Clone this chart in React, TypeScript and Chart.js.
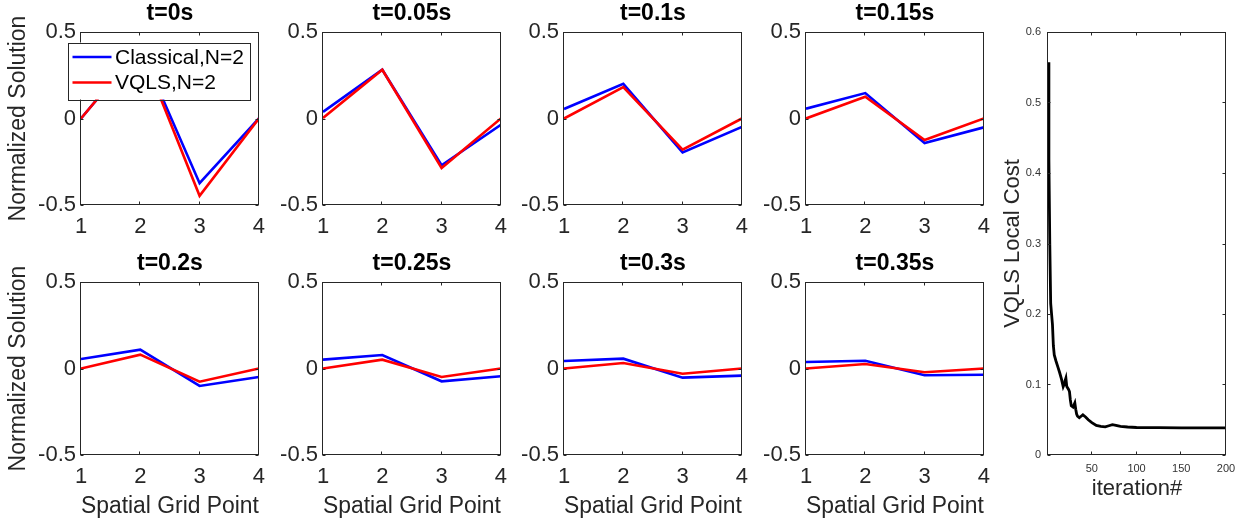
import React, { useEffect, useRef } from 'react';
import { Chart, registerables } from 'chart.js';

Chart.register(...registerables);

const FONT = '"Liberation Sans", Arial, Helvetica, sans-serif';

// ---- data ----
const gridPoints = [1, 2, 3, 4];
const xTickValues = [1, 2, 3, 4];
const yTickValues = [-0.5, 0, 0.5];
const timeTitles = ['t=0s', 't=0.05s', 't=0.1s', 't=0.15s', 't=0.2s', 't=0.25s', 't=0.3s', 't=0.35s'];
const seriesLabels = ['Classical,N=2', 'VQLS,N=2'];

const classicalT000 = [0, 0.41, -0.374, 0];
const vqlsT000 = [0, 0.41, -0.447, 0];
const classicalT005 = [0.038, 0.282, -0.27, -0.036];
const vqlsT005 = [0.003, 0.282, -0.286, 0];
const classicalT010 = [0.055, 0.2, -0.196, -0.049];
const vqlsT010 = [0, 0.182, -0.18, 0];
const classicalT015 = [0.057, 0.147, -0.142, -0.051];
const vqlsT015 = [0, 0.126, -0.124, 0];
const classicalT020 = [0.055, 0.109, -0.101, -0.049];
const vqlsT020 = [0, 0.08, -0.076, 0];
const classicalT025 = [0.051, 0.078, -0.074, -0.045];
const vqlsT025 = [0, 0.051, -0.049, 0];
const classicalT030 = [0.043, 0.057, -0.053, -0.041];
const vqlsT030 = [0, 0.032, -0.03, 0];
const classicalT035 = [0.038, 0.045, -0.039, -0.036];
const vqlsT035 = [0, 0.026, -0.022, 0];

const classicalSeries = [classicalT000, classicalT005, classicalT010, classicalT015, classicalT020, classicalT025, classicalT030, classicalT035];
const vqlsSeries = [vqlsT000, vqlsT005, vqlsT010, vqlsT015, vqlsT020, vqlsT025, vqlsT030, vqlsT035];

const costIterations = [1, 2, 3, 4, 5, 6, 7, 8, 10, 12, 14, 16, 18, 19, 20, 21, 22, 24, 25, 26, 27, 28, 29, 31, 32, 33, 34, 36, 38, 40, 43, 46, 50, 55, 60, 65, 69, 73, 77, 82, 90, 100, 125, 150, 175, 200];
const costValues = [0.557, 0.42, 0.3, 0.215, 0.2, 0.185, 0.155, 0.142, 0.133, 0.125, 0.117, 0.108, 0.097, 0.1, 0.105, 0.109, 0.097, 0.093, 0.09, 0.078, 0.07, 0.069, 0.068, 0.074, 0.065, 0.058, 0.055, 0.053, 0.055, 0.057, 0.054, 0.05, 0.046, 0.042, 0.0405, 0.04, 0.0415, 0.043, 0.042, 0.0405, 0.0397, 0.039, 0.0388, 0.0386, 0.0385, 0.0385];
const costYTicks = [0, 0.1, 0.2, 0.3, 0.4, 0.5, 0.6];
const costXTicks = [50, 100, 150, 200];

// ---- layout ----
const colLefts = [81, 323, 564, 806];
const rowTops = [32, 282];
const PLOT_W = 179;
const PLOT_H = 173;
const Y_AXIS_W = 80;
const X_AXIS_H = 70;
const TITLE_H = 32;
const PAD_R = 14;

const AXIS_COLOR = '#262626';

const boxPlugin = {
  id: 'matlabBox',
  afterDraw(chart: any, _args: any, opts: any) {
    const { ctx, chartArea: a } = chart;
    const len = opts.tickLen ?? 3;
    ctx.save();
    ctx.strokeStyle = AXIS_COLOR;
    ctx.lineWidth = 1;
    const l = Math.round(a.left) - 0.5;
    const r = Math.round(a.right) - 0.5;
    const t = Math.round(a.top) + 0.5;
    const b = Math.round(a.bottom) - 0.5;
    ctx.beginPath();
    const xs = chart.scales.x;
    const ys = chart.scales.y;
    xs.ticks.forEach((tk: any) => {
      const px = Math.round(xs.getPixelForValue(tk.value)) - 0.5;
      ctx.moveTo(px, b);
      ctx.lineTo(px, b - len);
      ctx.moveTo(px, t);
      ctx.lineTo(px, t + len);
    });
    ys.ticks.forEach((tk: any) => {
      const py = Math.round(ys.getPixelForValue(tk.value)) + 0.5;
      ctx.moveTo(l, py);
      ctx.lineTo(l + len, py);
      ctx.moveTo(r, py);
      ctx.lineTo(r - len, py);
    });
    ctx.stroke();
    ctx.strokeRect(l, t, r - l, b - t);
    ctx.restore();

    if (opts.legend) {
      const x0 = a.left - 13;
      const y0 = a.top + 10.5;
      const w = 182;
      const h = 57;
      ctx.save();
      ctx.fillStyle = '#ffffff';
      ctx.fillRect(x0, y0, w, h);
      ctx.strokeStyle = AXIS_COLOR;
      ctx.lineWidth = 1;
      ctx.strokeRect(Math.round(x0) + 0.5, Math.round(y0) + 0.5, w, h);
      chart.data.datasets.forEach((ds: any, i: number) => {
        const yy = y0 + 14.5 + i * 25.5;
        ctx.strokeStyle = ds.borderColor;
        ctx.lineWidth = 2.6;
        ctx.beginPath();
        ctx.moveTo(x0 + 4.5, yy);
        ctx.lineTo(x0 + 43.5, yy);
        ctx.stroke();
        ctx.fillStyle = '#000000';
        ctx.font = `21px ${FONT}`;
        ctx.textBaseline = 'middle';
        ctx.textAlign = 'left';
        ctx.fillText(ds.label, x0 + 47, yy + 1);
      });
      ctx.restore();
    }
  },
};

function subplotConfig(i: number): any {
  const row = Math.floor(i / 4);
  const col = i % 4;
  return {
    type: 'line',
    data: {
      datasets: [
        {
          label: seriesLabels[0],
          data: gridPoints.map((x, k) => ({ x, y: classicalSeries[i][k] })),
          borderColor: '#0000FF',
          borderWidth: 2.6,
          pointRadius: 0,
          tension: 0,
          order: 1,
        },
        {
          label: seriesLabels[1],
          data: gridPoints.map((x, k) => ({ x, y: vqlsSeries[i][k] })),
          borderColor: '#FF0000',
          borderWidth: 2.6,
          pointRadius: 0,
          tension: 0,
          order: 0,
        },
      ],
    },
    options: {
      animation: false,
      responsive: false,
      maintainAspectRatio: false,
      devicePixelRatio: 1,
      layout: { padding: { left: 0, right: PAD_R, top: 0, bottom: 0 } },
      plugins: {
        legend: { display: false },
        tooltip: { enabled: false },
        title: {
          display: true,
          fullSize: false,
          text: timeTitles[i],
          color: '#000000',
          font: { family: FONT, size: 23, weight: 'bold' },
          padding: { top: 0, bottom: 4.4 },
        },
        matlabBox: { tickLen: 3, legend: i === 0 },
      },
      scales: {
        x: {
          type: 'linear',
          min: 1,
          max: 4,
          afterBuildTicks: (s: any) => {
            s.ticks = xTickValues.map((v) => ({ value: v }));
          },
          afterFit: (s: any) => {
            s.height = X_AXIS_H;
          },
          grid: { display: false, drawTicks: false },
          border: { display: false },
          ticks: {
            color: AXIS_COLOR,
            font: { family: FONT, size: 22 },
            padding: 9,
            maxRotation: 0,
            autoSkip: false,
            callback: (v: any) => String(v),
          },
          title: {
            display: row === 1,
            text: 'Spatial Grid Point',
            color: AXIS_COLOR,
            font: { family: FONT, size: 23 },
            padding: { top: 0, bottom: 4.2 },
          },
        },
        y: {
          type: 'linear',
          min: -0.5,
          max: 0.5,
          afterBuildTicks: (s: any) => {
            s.ticks = yTickValues.map((v) => ({ value: v }));
          },
          afterFit: (s: any) => {
            s.width = Y_AXIS_W;
          },
          grid: { display: false, drawTicks: false },
          border: { display: false },
          ticks: {
            color: AXIS_COLOR,
            font: { family: FONT, size: 22 },
            padding: 5,
            callback: (v: any) => String(v),
          },
          title: {
            display: col === 0,
            text: 'Normalized Solution',
            color: AXIS_COLOR,
            font: { family: FONT, size: 23 },
            padding: { top: 4, bottom: 0 },
          },
        },
      },
    },
    plugins: [boxPlugin],
  };
}

function costConfig(): any {
  return {
    type: 'line',
    data: {
      datasets: [
        {
          label: 'VQLS Local Cost',
          data: costIterations.map((x, k) => ({ x, y: costValues[k] })),
          borderColor: '#000000',
          borderWidth: 2.8,
          pointRadius: 0,
          tension: 0,
        },
      ],
    },
    options: {
      animation: false,
      responsive: false,
      maintainAspectRatio: false,
      devicePixelRatio: 1,
      layout: { padding: { left: 0, right: 21, top: 32, bottom: 0 } },
      plugins: {
        legend: { display: false },
        tooltip: { enabled: false },
        title: { display: false },
        matlabBox: { tickLen: 3, legend: false },
      },
      scales: {
        x: {
          type: 'linear',
          min: 1,
          max: 200,
          afterBuildTicks: (s: any) => {
            s.ticks = costXTicks.map((v) => ({ value: v }));
          },
          afterFit: (s: any) => {
            s.height = 65;
          },
          grid: { display: false, drawTicks: false },
          border: { display: false },
          ticks: {
            color: '#333333',
            font: { family: FONT, size: 11 },
            padding: 7,
            maxRotation: 0,
            autoSkip: false,
            callback: (v: any) => String(v),
          },
          title: {
            display: true,
            text: 'iteration#',
            color: AXIS_COLOR,
            font: { family: FONT, size: 22 },
            padding: { top: 0, bottom: 17.8 },
          },
        },
        y: {
          type: 'linear',
          min: 0,
          max: 0.6,
          afterBuildTicks: (s: any) => {
            s.ticks = costYTicks.map((v) => ({ value: v }));
          },
          afterFit: (s: any) => {
            s.width = 48;
          },
          grid: { display: false, drawTicks: false },
          border: { display: false },
          ticks: {
            color: '#333333',
            font: { family: FONT, size: 11 },
            padding: 7,
            callback: (v: any) => String(Math.round(v * 10) / 10),
          },
          title: {
            display: true,
            text: 'VQLS Local Cost',
            color: AXIS_COLOR,
            font: { family: FONT, size: 22 },
            padding: { top: 0, bottom: 0 },
          },
        },
      },
    },
    plugins: [boxPlugin],
  };
}

type Slot = { left: number; top: number; width: number; height: number };

const subplotSlots: Slot[] = timeTitles.map((_, i) => {
  const row = Math.floor(i / 4);
  const col = i % 4;
  return {
    left: colLefts[col] - Y_AXIS_W,
    top: rowTops[row] - TITLE_H,
    width: Y_AXIS_W + PLOT_W + PAD_R,
    height: TITLE_H + PLOT_H + X_AXIS_H,
  };
});
const costSlot: Slot = { left: 1000, top: 0, width: 247, height: 520 };

export default function App() {
  const refs = useRef<(HTMLCanvasElement | null)[]>([]);

  useEffect(() => {
    const charts: Chart[] = [];
    timeTitles.forEach((_, i) => {
      const c = refs.current[i];
      if (c) charts.push(new Chart(c, subplotConfig(i)));
    });
    const cc = refs.current[8];
    if (cc) charts.push(new Chart(cc, costConfig()));
    return () => charts.forEach((ch) => ch.destroy());
  }, []);

  const slots = [...subplotSlots, costSlot];

  return (
    <div
      style={{
        position: 'fixed',
        left: 0,
        top: 0,
        width: 1247,
        height: 520,
        background: '#ffffff',
        overflow: 'hidden',
      }}
    >
      {slots.map((s, i) => (
        <canvas
          key={i}
          ref={(el) => {
            refs.current[i] = el;
          }}
          width={s.width}
          height={s.height}
          style={{
            position: 'absolute',
            left: s.left,
            top: s.top,
            width: s.width,
            height: s.height,
          }}
        />
      ))}
    </div>
  );
}
